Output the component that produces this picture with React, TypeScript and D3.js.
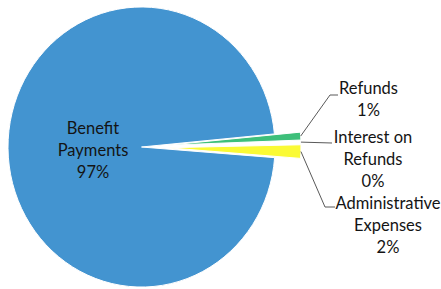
import React from "react";
import * as d3 from "d3";

const categories = ["Benefit Payments", "Refunds", "Interest on Refunds", "Administrative Expenses"];
const values = [97.3, 0.9, 0.25, 1.55];
const labelLines = [["Benefit", "Payments"], ["Refunds"], ["Interest on", "Refunds"], ["Administrative", "Expenses"]];
const colors = ["#4394D0", "#3DBF7A", "#FFFFFF", "#FAFA35"];

const W = 441, H = 289;
const cx = 141.5, cy = 147, r = 133.5, sy = 1.049, explode = 26;
const startDeg = 94.36;
const fontFamily = "Lato, 'Open Sans', sans-serif";
const fontSize = 16.5;
const lineH = 22;

// label anchor (center x, first baseline y) and leader bends
const labelLayout = [
  { x: 93, y: 134, leader: null as null | [number, number][] },
  { x: 368.5, y: 94, leader: [[330, 95], [338, 95]] },
  { x: 373, y: 143, leader: [[332, 143]] },
  { x: 388, y: 209, leader: [[325, 207], [335, 207]] },
];

export default function App() {
  const a0 = (startDeg * Math.PI) / 180;
  const pie = d3.pie<number>().sort(null).value((d) => d).startAngle(a0).endAngle(a0 + 2 * Math.PI);
  const arcs = pie(values);
  const arc = d3.arc<d3.PieArcDatum<number>>().innerRadius(0).outerRadius(r);
  const total = d3.sum(values);
  const pct = d3.format(".0%");

  return (
    <svg width={W} height={H} style={{ position: "absolute", left: 0, top: 0 }} fontFamily={fontFamily}>
      <rect width={W} height={H} fill="#fff" />
      <g transform={`translate(${cx},${cy}) scale(1,${sy})`}>
        {arcs.map((a, i) => {
          const mid = (a.startAngle + a.endAngle) / 2;
          const off = i === 0 ? 0 : explode;
          const dx = off * Math.sin(mid);
          const dy = -off * Math.cos(mid);
          return (
            <path
              key={categories[i]}
              d={arc(a) || ""}
              transform={`translate(${dx},${dy})`}
              fill={colors[i]}
              stroke="#fff"
              strokeWidth={1}
              vectorEffect="non-scaling-stroke"
            />
          );
        })}
      </g>
      {arcs.map((a, i) => {
        const L = labelLayout[i];
        if (!L.leader) return null;
        const mid = (a.startAngle + a.endAngle) / 2;
        const sx = cx + (explode + r) * Math.sin(mid);
        const syy = cy - (explode + r) * Math.cos(mid) * sy;
        const pts: [number, number][] = [[sx, syy], ...L.leader];
        return (
          <polyline
            key={"l" + i}
            points={pts.map((p) => p.join(",")).join(" ")}
            fill="none"
            stroke="#595959"
            strokeWidth={1}
          />
        );
      })}
      {arcs.map((a, i) => {
        const L = labelLayout[i];
        const lines = [...labelLines[i], pct(values[i] / total)];
        return (
          <text key={"t" + i} x={L.x} y={L.y} textAnchor="middle" fontSize={fontSize} fill="#141414">
            {lines.map((s, j) => (
              <tspan key={j} x={L.x} y={L.y + j * lineH}>
                {s}
              </tspan>
            ))}
          </text>
        );
      })}
    </svg>
  );
}
